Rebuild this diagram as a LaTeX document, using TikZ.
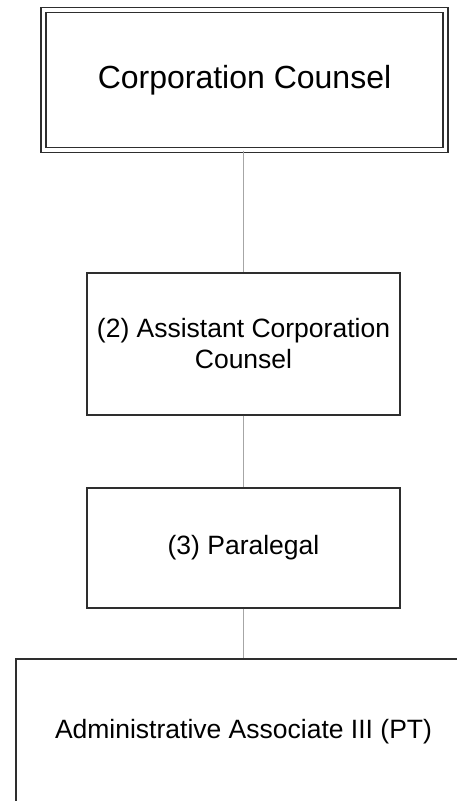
\documentclass[tikz,border=0pt]{standalone}
\usepackage{fontspec}
\setmainfont{Liberation Sans}
\definecolor{boxline}{HTML}{2E2E2E}
\definecolor{linkline}{HTML}{A6A6A6}
\begin{document}
\begin{tikzpicture}[x=1pt,y=-1pt,
  post/.style={draw=boxline, line width=1.4pt, rectangle, align=center,
    inner sep=0pt, font=\fontsize{26.5}{31}\selectfont},
  headpost/.style={post, double, double distance=3.6pt, line width=1.3pt,
    font=\fontsize{32}{38}\selectfont},
  link/.style={draw=linkline, line width=1.3pt}]
  \useasboundingbox (0,0) rectangle (457,801);
  \fill[white] (0,0) rectangle (457,801);
  \clip (0,0) rectangle (457,801);

  % positions
  \node[headpost, minimum width=402pt, minimum height=140pt] (cc) at (244.5,80) {Corporation Counsel};
  \node[post, minimum width=313pt, minimum height=142pt] (acc) at (243.5,344) {(2) Assistant Corporation\\Counsel};
  \node[post, minimum width=313pt, minimum height=120pt] (para) at (243.5,548) {(3) Paralegal};
  \node[post, minimum width=455pt, minimum height=145pt] (aa) at (243.5,731.5) {Administrative Associate III (PT)};

  % reporting lines
  \draw[link] (cc.south -| 243.3,0) -- (acc.north -| 243.3,0);
  \draw[link] (acc.south -| 243.3,0) -- (para.north -| 243.3,0);
  \draw[link] (para.south -| 243.3,0) -- (aa.north -| 243.3,0);
\end{tikzpicture}
\end{document}
